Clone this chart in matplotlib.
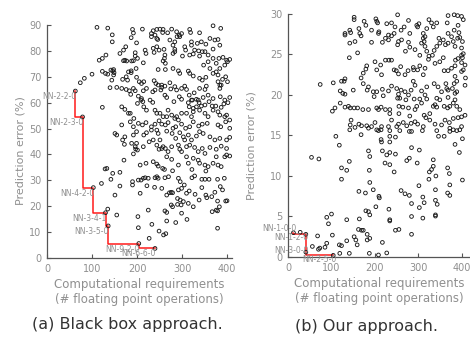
import numpy as np
import matplotlib
matplotlib.use('Agg')
import matplotlib.pyplot as plt

plt.rcParams['font.family'] = ['DejaVu Sans']

# ---- (a) black box approach: all candidate networks ----
bb_x = [111, 135, 190, 192, 212, 236, 244, 251, 258, 257, 277, 299, 317, 319, 339, 369, 386, 288, 268,
        145, 145, 187, 199, 232, 240, 244, 232, 246, 284, 289, 294, 280, 284, 306, 308, 321, 321, 334, 343,
        353, 362, 373, 380, 384, 369, 351, 337, 325, 295, 273,
        162, 175, 170, 196, 196, 192, 218, 220, 236, 244, 238, 249, 260, 262, 261, 258, 263, 280, 284, 301,
        317, 328, 339, 345, 358, 358, 369, 376, 382, 391, 399, 401, 395, 406, 384, 362, 348,
        116, 123, 131, 170, 177, 188, 201, 214, 198, 187, 181, 173, 142, 146, 149, 148,
        247, 263, 280, 292, 295, 314, 317, 325, 339, 345, 353, 369, 376, 380, 380, 390, 397, 387, 384, 401,
        100, 123, 130, 135, 144, 148, 168, 176, 179, 192, 187, 199, 205, 210, 215, 221, 238, 242, 255, 262,
        273, 284, 288, 299, 306, 310, 316, 327, 321, 339, 351, 354, 332, 347, 358, 369, 384, 385,
        74, 83,
        140, 155, 166, 176, 183, 186, 196, 203, 210, 214, 235, 240, 247, 253, 255, 262, 266, 275, 282, 294,
        299, 314, 316, 323, 336, 338, 343, 351, 360, 367, 375, 387, 393, 395, 406, 402,
        123, 166, 173, 181, 185, 193, 201, 209, 213, 215, 221, 229, 235, 240, 244, 251, 258, 266, 269, 277,
        284, 288, 292, 299, 310, 321, 325, 325, 332, 339, 351, 358, 369, 380, 384, 395, 399, 406,
        166, 185, 192, 203, 212, 220, 232, 240, 249, 255, 263, 269, 280, 286, 299, 308, 317, 325, 337, 345,
        356, 380, 386, 397, 406,
        151, 155, 168, 173, 192, 199, 215, 221, 232, 244, 247, 251, 266, 278, 286, 295, 303, 306, 314, 321,
        332, 339, 347, 362, 373, 384, 399, 406,
        172, 188, 196, 201, 214, 227, 236, 244, 249, 255, 258, 263, 269, 277, 292, 295, 299, 310, 317, 328,
        336, 345, 351, 362, 376, 387, 395, 399, 406,
        133, 171, 192, 207, 220, 236, 244, 247, 257, 266, 277, 292, 310, 314, 325, 336, 339, 351, 358, 369,
        376, 380, 387, 399,
        261, 279, 322, 353,
        209, 214, 218, 225, 240, 244, 247, 262, 270, 292, 296, 305, 322, 328, 344, 351, 360, 379, 394,
        222, 239, 255, 272, 276, 279, 292, 299, 310, 316, 329, 344, 353, 373, 385, 390, 207, 266,
        290, 296, 303, 314, 338, 355, 366, 379, 383, 397, 276, 279, 290, 298, 325, 400,
        262, 266, 299, 225, 202, 233, 266, 286, 311, 367, 376, 379,
        203, 249, 264, 259, 227, 379,
        199, 197, 129, 146, 162, 121, 142, 162, 190, 190, 203, 151, 135, 155]
bb_y = [89.1, 88.8, 88.3, 86.9, 88.4, 87.8, 88.3, 88.4, 88.3, 87.1, 88.4, 86.7, 88.3, 87.1, 87.0, 89.7, 88.7, 87.4, 87.0,
        86.2, 83.5, 85.1, 83.1, 86.7, 86.1, 84.8, 85.5, 84.4, 83.5, 85.5, 86.1, 82.2, 80.6, 81.6, 80.3, 83.5, 82.2, 82.9, 83.5,
        82.6, 84.8, 84.2, 84.4, 82.2, 80.7, 79.7, 80.0, 78.8, 85.5, 84.2,
        79.0, 81.6, 80.3, 79.3, 78.0, 76.2, 80.3, 79.0, 81.0, 81.6, 79.4, 80.3, 80.6, 78.4, 77.1, 76.1, 75.2, 79.0, 79.7, 78.0,
        78.4, 80.3, 78.0, 79.7, 78.4, 75.8, 77.1, 75.2, 77.1, 77.5, 76.4, 75.8, 74.5, 76.7, 73.2, 73.2, 74.5,
        76.4, 77.1, 78.4, 76.2, 76.1, 76.1, 77.1, 75.4, 73.2, 72.3, 71.9, 76.4, 72.6, 72.3, 71.6, 72.8,
        72.8, 72.8, 73.2, 72.3, 71.3, 72.2, 71.3, 70.3, 69.4, 68.7, 69.8, 71.3, 71.9, 70.7, 68.1, 69.0, 70.0, 66.8, 65.5, 68.1,
        71.0, 72.1, 71.3, 71.0, 68.7, 70.7, 69.0, 70.0, 68.7, 65.5, 71.6, 69.8, 68.1, 67.4, 68.1, 65.5, 68.5, 67.4, 66.8, 66.4,
        67.7, 66.2, 64.9, 65.5, 66.4, 65.1, 62.9, 63.8, 61.0, 65.5, 65.1, 66.4, 61.3, 62.0, 62.9, 61.6, 66.8, 62.3,
        67.7, 69.4,
        65.8, 65.9, 65.5, 65.1, 64.6, 63.2, 64.6, 62.5, 61.6, 64.6, 64.2, 64.9, 66.8, 64.9, 65.9, 62.9, 62.0, 65.3, 60.4, 62.3,
        61.3, 60.0, 58.4, 61.0, 61.0, 60.0, 58.7, 59.1, 60.4, 58.7, 58.7, 58.2, 59.5, 61.0, 62.0, 60.0,
        58.2, 58.4, 57.4, 55.9, 55.9, 53.9, 59.7, 61.0, 60.4, 58.4, 57.1, 61.0, 60.1, 57.1, 55.9, 55.9, 54.6, 54.6, 57.1, 55.2,
        53.9, 54.6, 53.3, 55.9, 55.9, 54.6, 57.8, 56.5, 58.4, 57.1, 55.9, 54.6, 57.1, 56.5, 55.2, 54.6, 55.2, 53.3,
        51.4, 52.6, 50.7, 52.0, 51.4, 52.3, 50.7, 51.7, 53.0, 51.7, 51.4, 52.3, 50.1, 50.7, 51.7, 50.1, 50.7, 52.6, 51.0, 51.7,
        52.0, 51.4, 50.7, 52.6, 50.1,
        48.1, 47.5, 45.6, 46.8, 47.5, 48.8, 47.5, 48.4, 49.4, 49.4, 48.1, 45.6, 49.0, 48.1, 46.2, 48.4, 46.8, 45.6, 47.5, 45.6,
        47.1, 48.8, 48.1, 46.8, 45.6, 46.2, 45.6, 46.6,
        43.9, 44.3, 43.0, 41.7, 43.0, 44.9, 45.6, 43.6, 42.0, 42.3, 43.0, 42.3, 41.1, 43.0, 43.6, 42.0, 41.1, 43.0, 43.6, 42.7,
        41.1, 42.3, 40.4, 42.7, 42.0, 43.2, 39.1, 42.3, 39.4,
        34.6, 37.8, 40.2, 35.9, 36.6, 37.2, 36.3, 35.5, 34.6, 39.1, 38.1, 35.9, 39.1, 36.6, 38.5, 37.8, 36.6, 35.9, 35.3, 36.6,
        39.1, 35.9, 35.3, 39.8,
        34.2, 33.7, 34.2, 33.6,
        30.1, 30.8, 31.0, 30.8, 31.0, 31.4, 30.8, 31.0, 31.4, 30.8, 29.5, 28.2, 31.0, 31.7, 30.4, 30.4, 30.4, 30.4, 30.8,
        27.9, 27.3, 26.9, 25.2, 25.4, 25.2, 26.3, 26.9, 25.0, 25.9, 24.6, 27.2, 24.3, 25.4, 27.6, 26.3, 25.0, 24.3,
        23.0, 22.4, 21.8, 21.1, 22.4, 23.3, 23.7, 22.0, 19.8, 22.0, 20.5, 19.8, 20.7, 20.5, 19.8, 22.1,
        18.2, 17.6, 17.3, 18.5, 16.0, 13.0, 14.3, 13.7, 14.9, 17.9, 18.5, 18.2,
        11.7, 10.4, 9.4, 8.9, 7.6, 11.5,
        44.3, 42.1, 34.4, 32.7, 33.1, 28.8, 30.4, 27.8, 29.5, 28.2, 30.1, 24.3, 18.9, 16.6]

bb_front_x = [63, 79, 103, 130, 136, 204, 240]
bb_front_y = [64.5, 54.5, 27.2, 17.5, 12.4, 5.6, 3.7]
bb_front_names = ['NN-2-2-0', 'NN-2-3-0', 'NN-4-2-0', 'NN-3-4-1', 'NN-3-5-0', 'NN-9-2-0', 'NN-6-6-0']

# ---- (b) our approach ----
our_x = [110, 118, 142, 168, 54, 71, 185, 188, 141, 123, 135, 187, 123, 188, 163, 178, 196, 209, 202, 179,
         185, 188, 100, 89, 93, 164, 135, 102, 68, 89, 118, 123, 135, 152, 156, 159, 162, 169, 173, 182,
         188, 182, 56, 70, 73, 85, 119, 141, 187, 208, 28,
         208, 234, 234, 234, 247, 257, 279, 284, 309, 342, 346, 359, 372, 388, 214, 215, 384, 401, 394, 217,
         227, 234, 247, 223, 234, 244, 273, 279, 284, 302, 297, 334, 334, 330, 325, 340, 324, 367, 371, 401,
         372, 301, 260, 269, 279, 210, 310, 313, 284, 302, 339, 339, 343, 367, 372, 232, 234, 234, 247, 255,
         284, 310, 339, 339, 284, 217, 227,
         152, 152, 175, 179, 202, 204, 206, 252, 277, 296, 301, 324, 330, 342, 366, 368, 382, 390, 399, 403,
         391, 227, 238, 246, 260, 267, 280, 298, 319, 334, 311, 315,
         131, 131, 142, 144, 163, 165, 168, 154, 142,
         192, 192, 208, 209, 217, 224, 231, 231, 238, 244, 252, 254, 261, 270, 277, 280, 292, 303, 307, 311,
         313, 315, 319, 324, 332, 336, 342, 349, 357, 362, 368, 376, 380, 384, 390, 393, 395, 399, 401, 399,
         403, 368, 382, 347,
         141, 160, 181, 179, 200, 204, 213, 224, 215, 232, 238, 244, 249, 254, 259, 269, 276, 288, 289, 298,
         303, 311, 315, 323, 338, 349, 357, 359, 368, 376, 384, 385, 391, 399, 401, 407, 408, 399, 384, 382,
         388, 403,
         74, 104, 123, 129, 131, 120, 131, 126, 150, 168, 173, 173, 182, 185, 196, 198, 204, 217, 219, 231,
         238, 250, 254, 260, 257, 269, 277, 283, 288, 292, 307, 315, 319, 336, 345, 353, 363, 365, 368, 378,
         384, 388, 407, 368, 349, 342, 319, 303, 290, 271, 252,
         102, 108, 120, 131, 139, 143, 152, 160, 172, 185, 204, 208, 214, 224, 234, 234, 255, 255, 264, 277,
         280, 292, 296, 307, 313, 317, 326, 334, 338, 342, 359, 367, 372, 380, 384, 388, 395, 399, 407,
         143, 145, 163, 154, 169, 185, 200, 215, 238, 250, 254, 265, 273, 283, 292, 298, 311, 326, 338, 353,
         361, 371, 380, 391, 181, 192, 204, 214, 231, 372, 380, 395, 399]
our_y = [14.9, 13.8, 15.7, 15.1, 12.3, 12.1, 13.1, 12.4, 11.8, 11.0, 10.7, 10.7, 9.6, 9.2, 8.1, 7.9, 8.3, 7.5, 6.2, 5.7,
         5.6, 5.2, 5.3, 4.9, 4.1, 4.7, 4.6, 2.7, 2.6, 1.7, 1.5, 1.4, 2.0, 2.5, 2.1, 1.5, 3.4, 3.3, 3.3, 2.8,
         2.3, 2.1, 1.3, 0.95, 1.1, 1.2, 0.45, 0.45, 0.45, 0.25, 3.05,
         15.6, 15.6, 14.9, 14.2, 14.8, 15.6, 15.5, 15.5, 15.6, 15.6, 14.9, 14.9, 15.5, 15.6, 14.5, 14.2, 13.9, 14.6, 12.9, 13.1,
         12.6, 12.9, 12.7, 11.6, 11.4, 10.5, 11.9, 12.2, 13.5, 13.2, 11.6, 12.0, 11.2, 10.8, 10.5, 10.0, 9.6, 11.0, 10.3, 9.5,
         8.9, 8.8, 8.2, 7.8, 7.6, 7.3, 7.4, 6.7, 6.6, 6.1, 8.3, 7.0, 6.5, 7.9, 7.6, 5.9, 4.6, 4.45, 3.3, 3.4,
         5.0, 4.8, 5.2, 5.05, 2.8, 1.8, 0.5,
         29.6, 29.3, 29.1, 28.6, 29.4, 29.1, 28.9, 29.9, 29.2, 28.6, 28.8, 29.3, 28.9, 28.9, 28.9, 29.8, 29.9, 29.8, 29.7, 29.3,
         28.6, 28.8, 28.9, 28.4, 28.0, 28.4, 27.6, 28.4, 28.2, 28.4, 27.6, 27.2,
         27.6, 27.4, 28.0, 27.7, 28.2, 27.6, 27.3, 26.6, 26.4,
         28.0, 26.5, 27.6, 27.8, 26.5, 27.0, 27.4, 26.8, 27.3, 27.6, 26.2, 26.6, 26.8, 25.4, 26.5, 25.9, 25.6, 24.9, 26.4, 27.0,
         26.6, 26.0, 25.4, 24.8, 24.9, 25.5, 26.0, 26.4, 26.8, 26.2, 26.4, 27.2, 26.6, 26.0, 27.0, 27.7, 27.1, 25.8, 26.6, 24.9,
         25.1, 27.6, 28.0, 27.0,
         24.6, 25.2, 23.6, 23.2, 24.1, 23.1, 23.7, 24.3, 22.5, 24.3, 24.3, 23.1, 23.0, 22.6, 23.5, 22.5, 23.0, 23.4, 23.1, 23.1,
         23.6, 22.5, 23.3, 24.4, 23.9, 24.1, 24.6, 23.0, 23.0, 23.3, 23.6, 24.3, 24.5, 24.0, 24.6, 23.7, 22.1, 22.9, 22.3, 21.4,
         21.7, 23.1,
         21.3, 21.5, 21.7, 21.7, 22.0, 20.5, 20.1, 20.2, 20.6, 22.1, 21.4, 22.7, 20.6, 21.0, 20.4, 19.8, 20.4, 20.7, 19.9, 20.5,
         21.1, 20.8, 20.1, 20.6, 19.6, 20.4, 20.0, 20.6, 21.7, 21.2, 20.5, 20.0, 21.0, 21.4, 21.0, 20.4, 21.4, 20.8, 20.6, 20.8,
         20.2, 20.4, 21.2, 19.7, 19.4, 19.6, 19.5, 19.5, 19.5, 19.4, 19.6,
         18.0, 18.4, 19.0, 18.5, 18.6, 18.4, 18.4, 18.4, 18.2, 18.2, 18.4, 18.2, 18.5, 18.2, 18.2, 17.7, 18.6, 17.7, 18.5, 18.4,
         17.4, 18.2, 18.6, 19.0, 17.5, 17.2, 17.7, 18.6, 18.8, 18.5, 18.6, 18.4, 18.6, 19.0, 19.4, 18.6, 18.2, 17.3, 17.5,
         16.3, 16.9, 16.4, 16.0, 16.2, 15.9, 16.6, 16.1, 16.9, 16.1, 16.4, 16.6, 16.2, 16.5, 16.7, 16.4, 16.1, 16.9, 16.4, 16.3,
         16.9, 16.6, 17.1, 17.2, 16.2, 16.1, 15.7, 15.7, 16.1, 15.9, 15.7, 15.7, 16.1]

our_front_x = [12.5, 41, 41, 104]
our_front_y = [3.0, 2.8, 0.6, 0.2]
our_front_names = ['NN-1-0-0', 'NN-1-2-0', 'NN-3-0-0', 'NN-2-5-0']

gray = '#8f8f8f'
fig = plt.figure(figsize=(4.7, 3.37), dpi=100)
ax1 = fig.add_axes([0.1, 0.2344, 0.3926, 0.6914])
ax2 = fig.add_axes([0.6128, 0.2374, 0.3868, 0.7211])

for ax in (ax1, ax2):
    for s in ['top', 'right']:
        ax.spines[s].set_visible(False)
    for s in ['left', 'bottom']:
        ax.spines[s].set_color('#555555')
        ax.spines[s].set_linewidth(0.9)
    ax.tick_params(direction='in', length=3, width=0.8, color='#555555',
                   labelcolor=gray, labelsize=7, pad=4)
    ax.set_xlabel('Computational requirements\n(# floating point operations)',
                  color=gray, fontsize=8.5, linespacing=1.25, labelpad=3)

# panel (a)
ax1.scatter(bb_x, bb_y, s=7, facecolors='none', edgecolors='#1a1a1a', linewidths=0.65,
            clip_on=False, zorder=3)
ax1.scatter(bb_front_x, bb_front_y, s=7, facecolors='none', edgecolors='#1a1a1a',
            linewidths=0.65, clip_on=False, zorder=4)
ax1.step(bb_front_x, bb_front_y, where='pre', color='#ff1a1a', lw=1.1, zorder=2)
for fx, fy, name in zip(bb_front_x, bb_front_y, bb_front_names):
    ax1.annotate(name, (fx, fy), xytext=(0.5, -4), textcoords='offset points',
                 ha='right', va='center', fontsize=5.5, color=gray, zorder=5)
ax1.set_xlim(0, 410)
ax1.set_ylim(0, 90)
ax1.set_xticks([0, 100, 200, 300, 400])
ax1.set_yticks(np.arange(0, 91, 10))
ax1.set_ylabel('Prediction error (%)', color=gray, fontsize=8)
ax1.yaxis.set_label_coords(-0.115, 0.46)

# panel (b)
ax2.scatter(our_x, our_y, s=7, facecolors='none', edgecolors='#1a1a1a', linewidths=0.65,
            clip_on=False, zorder=3)
ax2.scatter(our_front_x, our_front_y, s=7, facecolors='none', edgecolors='#1a1a1a',
            linewidths=0.65, clip_on=False, zorder=4)
ax2.step(our_front_x, our_front_y, where='pre', color='#ff1a1a', lw=1.1, zorder=2)
label_offsets = [(2, 3), (2, -2.5), (2, 1.5), (2, -3)]
for (fx, fy, name), off in zip(zip(our_front_x, our_front_y, our_front_names), label_offsets):
    ax2.annotate(name, (fx, fy), xytext=off, textcoords='offset points',
                 ha='right', va='center', fontsize=5.5, color=gray, zorder=5,
                 annotation_clip=False)
ax2.set_xlim(0, 418)
ax2.set_ylim(0, 30)
ax2.set_xticks([0, 100, 200, 300, 400])
ax2.set_yticks([0, 5, 10, 15, 20, 25, 30])
ax2.set_ylabel('Prediction error (%)', color=gray, fontsize=8)
ax2.yaxis.set_label_coords(-0.175, 0.46)

fig.text(0.27, 0.036, '(a) Black box approach.', ha='center', va='center', fontsize=11.5, color='#333333')
fig.text(0.779, 0.03, '(b) Our approach.', ha='center', va='center', fontsize=11.5, color='#333333')

fig.savefig('out.png', dpi=100)
